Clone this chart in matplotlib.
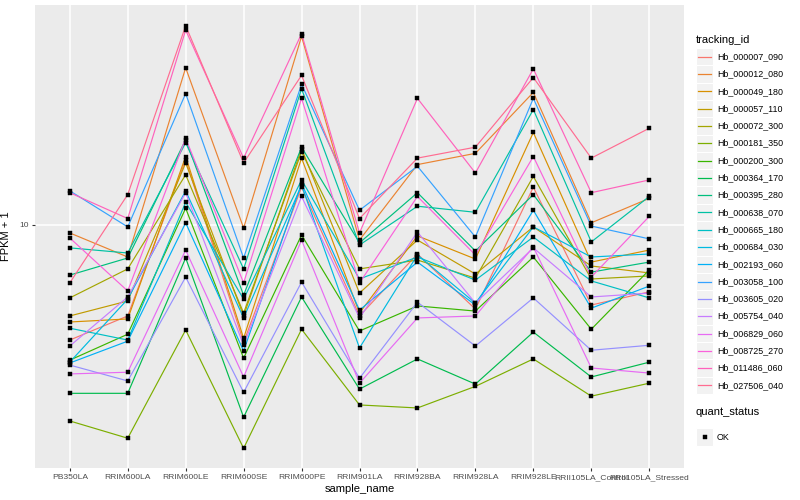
import matplotlib
matplotlib.use('Agg')
import matplotlib.pyplot as plt
from matplotlib.lines import Line2D
from matplotlib.patches import Rectangle
from matplotlib.ticker import NullLocator, FixedLocator

plt.rcParams['font.family'] = ['Liberation Sans', 'DejaVu Sans']

samples = ["PB350LA", "RRIM600LA", "RRIM600LE", "RRIM600SE", "RRIM600PE",
           "RRIM901LA", "RRIM928BA", "RRIM928LA", "RRIM928LE",
           "RRII105LA_Control", "RRII105LA_Stressed"]

tracking_ids = ["Hb_000007_090", "Hb_000012_080", "Hb_000049_180", "Hb_000057_110",
                "Hb_000072_300", "Hb_000181_350", "Hb_000200_300", "Hb_000364_170",
                "Hb_000395_280", "Hb_000638_070", "Hb_000665_180", "Hb_000684_030",
                "Hb_002193_060", "Hb_003058_100", "Hb_003605_020", "Hb_005754_040",
                "Hb_006829_060", "Hb_008725_270", "Hb_011486_060", "Hb_027506_040"]

palette = ["#F8766D", "#EA8331", "#D89000", "#C09B00", "#A3A500", "#7CAE00",
           "#39B600", "#00BB4E", "#00BF7D", "#00C1A3", "#00BFC4", "#00BAE0",
           "#00B0F6", "#35A2FF", "#9590FF", "#C77CFF", "#E76BF3", "#FA62DB",
           "#FF62BC", "#FF6C91"]

# FPKM + 1 values, one list per gene, in sample order
hb_000007_090 = [5.89, 6.58, 13.5, 5.83, 11.9, 6.58, 8.75, 6.79, 11.9, 6.92, 7.35]
hb_000012_080 = [9.64, 8.63, 20.6, 9.86, 23.8, 9.33, 13.2, 13.9, 18.4, 10.1, 11.3]
hb_000049_180 = [6.40, 6.49, 13.7, 5.94, 13.6, 6.67, 9.51, 8.55, 15.3, 8.43, 8.91]
hb_000057_110 = [6.58, 7.05, 13.3, 6.58, 14.2, 7.31, 9.33, 7.98, 9.91, 8.28, 8.02]
hb_000072_300 = [7.15, 8.17, 12.6, 6.67, 14.0, 8.17, 8.51, 7.83, 12.5, 7.80, 7.91]
hb_000181_350 = [4.06, 3.75, 6.17, 3.58, 6.19, 4.37, 4.31, 4.76, 5.40, 4.55, 4.83]
hb_000200_300 = [5.37, 6.05, 10.8, 5.42, 9.55, 6.14, 6.89, 6.73, 8.63, 6.19, 8.13]
hb_000364_170 = [4.61, 4.61, 8.59, 4.13, 7.18, 4.70, 5.40, 4.81, 6.11, 4.97, 5.32]
hb_000395_280 = [7.94, 8.59, 14.8, 7.24, 14.3, 9.21, 11.6, 8.87, 11.5, 8.05, 8.43]
hb_000638_070 = [9.00, 8.79, 14.6, 8.17, 18.7, 9.12, 10.9, 10.6, 17.0, 9.25, 11.4]
hb_000665_180 = [6.22, 5.89, 11.1, 7.11, 12.3, 7.80, 8.63, 7.76, 9.46, 7.73, 7.15]
hb_000684_030 = [5.32, 7.11, 11.7, 6.52, 12.0, 5.68, 8.71, 6.98, 9.91, 8.63, 8.75]
hb_002193_060 = [5.30, 5.86, 10.1, 5.60, 12.1, 6.76, 8.43, 6.92, 10.7, 6.82, 7.55]
hb_003058_100 = [11.7, 9.91, 18.3, 8.59, 19.1, 10.7, 13.1, 9.46, 17.9, 9.95, 9.38]
hb_003605_020 = [5.25, 4.88, 7.87, 4.63, 7.69, 4.94, 7.01, 5.73, 7.15, 5.62, 5.75]
hb_005754_040 = [5.73, 7.18, 11.6, 5.75, 11.4, 6.52, 9.68, 6.98, 9.00, 7.18, 7.31]
hb_006829_060 = [5.04, 5.08, 8.91, 4.97, 9.33, 4.83, 6.52, 6.58, 9.04, 5.18, 5.06]
hb_008725_270 = [9.42, 7.38, 14.9, 7.66, 17.9, 7.66, 11.4, 8.71, 13.7, 7.87, 10.4]
hb_011486_060 = [11.6, 10.3, 24.5, 13.6, 24.1, 9.64, 17.9, 12.7, 20.5, 11.6, 12.3]
hb_027506_040 = [7.66, 11.5, 25.0, 13.3, 19.9, 10.3, 13.6, 14.3, 19.7, 13.6, 15.6]

series = [hb_000007_090, hb_000012_080, hb_000049_180, hb_000057_110, hb_000072_300,
          hb_000181_350, hb_000200_300, hb_000364_170, hb_000395_280, hb_000638_070,
          hb_000665_180, hb_000684_030, hb_002193_060, hb_003058_100, hb_003605_020,
          hb_005754_040, hb_006829_060, hb_008725_270, hb_011486_060, hb_027506_040]

W, H = 800, 500
fig = plt.figure(figsize=(W / 100, H / 100), dpi=100)
fig.patch.set_facecolor('white')

def fx(px):
    return px / W

def fy(py):
    return 1 - py / H

ax = fig.add_axes([fx(35), fy(468), fx(684) - fx(35), fy(5) - fy(468)])
ax.set_facecolor('#EBEBEB')
for s in ax.spines.values():
    s.set_visible(False)

xs = list(range(len(samples)))
for vals, col in zip(series, palette):
    ax.plot(xs, vals, color=col, lw=0.85, zorder=3, solid_capstyle='butt')
for vals in series:
    ax.plot(xs, vals, ls='none', marker='s', ms=2.2, mew=0.3, color='black', zorder=4)

ax.set_yscale('log')
ax.set_ylim(3.27, 27.5)
ax.set_xlim(-0.6, len(samples) - 0.4)
ax.yaxis.set_major_locator(FixedLocator([10]))
ax.yaxis.set_minor_locator(NullLocator())
ax.set_yticklabels(["10"])
ax.set_xticks(xs)
ax.set_xticklabels(samples)
ax.grid(True, which='major', color='white', lw=1.1, zorder=1)
ax.set_axisbelow(True)
ax.tick_params(axis='both', which='major', length=2.4, width=0.8, color='#333333',
               labelcolor='#4D4D4D', labelsize=6.1, pad=2)
ax.tick_params(axis='both', which='minor', length=0)

ax.set_xlabel("sample_name", fontsize=8, color='black', labelpad=2)
ax.set_ylabel("FPKM + 1", fontsize=8, color='black', labelpad=6)

# legend: tracking_id
fig.text(fx(696), fy(40), "tracking_id", fontsize=8, ha='left', va='center')
step = 17.3
y0 = 56.7
for i, (name, col) in enumerate(zip(tracking_ids, palette)):
    yc = y0 + i * step
    fig.add_artist(Rectangle((fx(696), fy(yc + step / 2)), fx(713) - fx(696),
                             fy(yc - step / 2) - fy(yc + step / 2),
                             transform=fig.transFigure, facecolor='#F2F2F2',
                             edgecolor='white', lw=0.8))
    fig.add_artist(Line2D([fx(698), fx(711)], [fy(yc), fy(yc)],
                          transform=fig.transFigure, color=col, lw=0.9))
    fig.text(fx(717), fy(yc), name, fontsize=6.4, ha='left', va='center')

# legend: quant_status
fig.text(fx(696), fy(412), "quant_status", fontsize=8, ha='left', va='center')
yc = 437
fig.add_artist(Rectangle((fx(696), fy(yc + step / 2)), fx(713) - fx(696),
                         fy(yc - step / 2) - fy(yc + step / 2),
                         transform=fig.transFigure, facecolor='#F2F2F2',
                         edgecolor='white', lw=0.8))
fig.add_artist(Line2D([fx(704.5)], [fy(yc)], transform=fig.transFigure,
                      marker='s', ms=2.2, mew=0.3, color='black', ls='none'))
fig.text(fx(717), fy(yc), "OK", fontsize=6.4, ha='left', va='center')

fig.savefig("out.png", dpi=100)
